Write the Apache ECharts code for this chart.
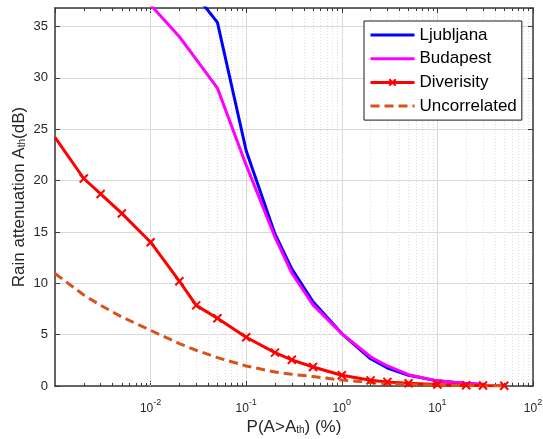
<!DOCTYPE html>
<html>
<head>
<meta charset="utf-8">
<script src="https://cdn.jsdelivr.net/npm/echarts@6/dist/echarts.min.js"></script>
<style>
  html, body { margin: 0; padding: 0; background: #fff; }
  #chart { width: 543px; height: 439px; }
</style>
</head>
<body>
<div id="chart"></div>
<script>
// Exceedance probability (%) and rain attenuation (dB) for each curve
const ljubljanaP = [0.03, 0.05, 0.1, 0.2, 0.3, 0.5, 1, 2, 3, 5, 10, 20, 30];
const ljubljanaA = [38.0, 35.4, 22.9, 14.8, 11.4, 8.2, 5.1, 2.65, 1.75, 1.05, 0.5, 0.25, 0.15];

const budapestP = [0.01, 0.02, 0.03, 0.05, 0.1, 0.2, 0.3, 0.5, 1, 2, 3, 5, 10, 20, 30];
const budapestA = [37.1, 34.0, 31.8, 29.0, 21.5, 14.5, 11.0, 7.9, 5.1, 2.85, 1.95, 1.1, 0.5, 0.25, 0.15];

const diversityP = [0.001, 0.002, 0.003, 0.005, 0.01, 0.02, 0.03, 0.05, 0.1, 0.2, 0.3, 0.5, 1, 2, 3, 5, 10, 20, 30, 50];
const diversityA = [24.2, 20.2, 18.7, 16.8, 14.0, 10.2, 7.85, 6.6, 4.75, 3.25, 2.55, 1.85, 1.05, 0.55, 0.4, 0.26, 0.15, 0.08, 0.05, 0.03];

const uncorrelatedP = [0.001, 0.002, 0.003, 0.005, 0.01, 0.02, 0.03, 0.05, 0.1, 0.2, 0.3, 0.5, 1, 2, 3, 5, 10, 20, 30, 50];
const uncorrelatedA = [10.95, 8.86, 7.86, 6.72, 5.42, 4.13, 3.48, 2.76, 1.95, 1.36, 1.14, 0.92, 0.58, 0.33, 0.24, 0.14, 0.08, 0.04, 0.03, 0.02];

const seriesNames = ['Ljubljana', 'Budapest', 'Diverisity', 'Uncorrelated'];
const yTicks = [0, 5, 10, 15, 20, 25, 30, 35];
const decadeExponents = [-3, -2, -1, 0, 1];   // decades that get 2..9 minor lines
const minorMultipliers = [2, 3, 4, 5, 6, 7, 8, 9];

const FONT = '"Liberation Sans", Arial, Helvetica, sans-serif';
const AXIS_COLOR = '#3a3a3a';
const TEXT_COLOR = '#262626';
const X_MIN = 0.001, X_MAX = 100;
const Y_MIN = 0, Y_MAX = 36.8;
const MINOR_TICK_LEN = 0.3;   // minor tick length in y units (about 3 px)

const pairs = (xs, ys) => xs.map((x, i) => [x, ys[i]]);

// the first Diverisity point sits on the left border and carries no marker
const diversityData = pairs(diversityP, diversityA).map((d, i) =>
  i === 0 ? { value: d, symbol: 'none' } : d);

const crossMarker = 'path://M0,0L10,10M10,0L0,10';

// log-axis minor positions (2..9 inside every decade)
const minorValues = [];
decadeExponents.forEach(e => minorMultipliers.forEach(k =>
  minorValues.push(Number((k * Math.pow(10, e)).toPrecision(3)))));

const minorGridLines = minorValues.map(v => ({
  xAxis: v,
  lineStyle: { color: '#dedede', width: 1, type: [1, 2] }
}));
const minorTickMarks = [];
minorValues.forEach(v => {
  minorTickMarks.push([
    { coord: [v, Y_MIN], lineStyle: { color: AXIS_COLOR, width: 1, type: 'solid' } },
    { coord: [v, Y_MIN + MINOR_TICK_LEN] }
  ]);
  minorTickMarks.push([
    { coord: [v, Y_MAX], lineStyle: { color: AXIS_COLOR, width: 1, type: 'solid' } },
    { coord: [v, Y_MAX - MINOR_TICK_LEN] }
  ]);
});

const chart = echarts.init(document.getElementById('chart'), null, { renderer: 'canvas' });

const bottomX = {
  type: 'log', logBase: 10, min: X_MIN, max: X_MAX, position: 'bottom',
  axisLine: { show: true, onZero: false, lineStyle: { color: AXIS_COLOR, width: 1.5 } },
  axisTick: { show: true, inside: true, length: 5, lineStyle: { color: AXIS_COLOR } },
  minorTick: { show: false },
  splitLine: { show: true, lineStyle: { color: '#dadada', width: 1 } },
  minorSplitLine: { show: false },
  axisLabel: {
    show: true, margin: 16, color: TEXT_COLOR, fontFamily: FONT, fontSize: 12, lineHeight: 14,
    showMinLabel: false,
    formatter: v => {
      const e = Math.round(Math.log10(v));
      if (e <= -3) return '';
      return '10{sup|' + e + '}';
    },
    rich: { sup: { fontSize: 9, lineHeight: 9, fontFamily: FONT, color: TEXT_COLOR, padding: [0, 0, 12, 0] } }
  },
  name: 'P(A>A{sub|th}) (%)', nameLocation: 'middle', nameGap: 31, nameMoveOverlap: false,
  nameTextStyle: {
    fontSize: 17, fontFamily: FONT, color: TEXT_COLOR, lineHeight: 20,
    rich: { sub: { fontSize: 10, lineHeight: 10, fontFamily: FONT, color: TEXT_COLOR, padding: [7, 0, 0, 0] } }
  }
};

const topX = {
  type: 'log', logBase: 10, min: X_MIN, max: X_MAX, position: 'top',
  axisLine: { show: true, onZero: false, lineStyle: { color: AXIS_COLOR, width: 1.5 } },
  axisTick: { show: true, inside: true, length: 5, lineStyle: { color: AXIS_COLOR } },
  splitLine: { show: false },
  axisLabel: { show: false }
};

const leftY = {
  type: 'value', min: Y_MIN, max: Y_MAX, interval: 5, position: 'left',
  axisLine: { show: true, onZero: false, lineStyle: { color: AXIS_COLOR, width: 1.5 } },
  axisTick: { show: true, inside: true, length: 5, lineStyle: { color: AXIS_COLOR } },
  splitLine: { show: true, lineStyle: { color: '#dadada', width: 1 } },
  axisLabel: {
    show: true, margin: 7, color: TEXT_COLOR, fontFamily: FONT, fontSize: 13,
    showMaxLabel: false,
    formatter: v => (yTicks.indexOf(v) >= 0 ? String(v) : '')
  },
  name: 'Rain attenuation A{sub|th}(dB)', nameLocation: 'middle', nameGap: 26, nameMoveOverlap: false,
  nameTextStyle: {
    fontSize: 17, fontFamily: FONT, color: TEXT_COLOR, lineHeight: 20,
    rich: { sub: { fontSize: 10, lineHeight: 10, fontFamily: FONT, color: TEXT_COLOR, padding: [7, 0, 0, 0] } }
  }
};

const rightY = {
  type: 'value', min: Y_MIN, max: Y_MAX, interval: 5, position: 'right',
  axisLine: { show: true, onZero: false, lineStyle: { color: AXIS_COLOR, width: 1.5 } },
  axisTick: { show: true, inside: true, length: 5, lineStyle: { color: AXIS_COLOR } },
  splitLine: { show: false },
  axisLabel: { show: false }
};

// plain curves keep their legend line but hide the legend symbol
const hiddenSymbolStyle = { opacity: 0 };

const option = {
  animation: false,
  backgroundColor: '#ffffff',
  grid: { left: 55, right: 10, top: 8, bottom: 53, containLabel: false, outerBoundsMode: 'none' },
  legend: {
    orient: 'vertical', left: 364, top: 21, z: 10,
    padding: [5, 5, 5, 5], itemGap: 5.7, itemWidth: 44, itemHeight: 8,
    backgroundColor: '#ffffff', borderColor: '#1a1a1a', borderWidth: 1, borderRadius: 0,
    selectedMode: false,
    lineStyle: { width: 3 },
    textStyle: { fontSize: 17, lineHeight: 18, fontFamily: FONT, color: '#000' },
    data: seriesNames
  },
  xAxis: [bottomX, topX],
  yAxis: [leftY, rightY],
  series: [
    {
      // minor log grid and minor ticks on the bottom / top frame, kept under the curves
      name: 'minor-grid', type: 'line', xAxisIndex: 0, yAxisIndex: 0,
      data: [], silent: true, symbol: 'none', z: 1,
      markLine: {
        silent: true, symbol: ['none', 'none'], animation: false, z: 1,
        label: { show: false }, emphasis: { disabled: true },
        data: minorGridLines.concat(minorTickMarks)
      }
    },
    {
      name: seriesNames[0], type: 'line', xAxisIndex: 0, yAxisIndex: 0, z: 3,
      data: pairs(ljubljanaP, ljubljanaA), showSymbol: false, symbol: 'circle',
      color: '#0000ff', itemStyle: hiddenSymbolStyle,
      lineStyle: { color: '#0000ff', width: 3 }, clip: true
    },
    {
      name: seriesNames[1], type: 'line', xAxisIndex: 0, yAxisIndex: 0, z: 3,
      data: pairs(budapestP, budapestA), showSymbol: false, symbol: 'circle',
      color: '#ff00ff', itemStyle: hiddenSymbolStyle,
      lineStyle: { color: '#ff00ff', width: 3 }, clip: true
    },
    {
      name: seriesNames[2], type: 'line', xAxisIndex: 0, yAxisIndex: 0, z: 3,
      data: diversityData, symbol: crossMarker, symbolSize: 8, showSymbol: true,
      color: '#ff0000',
      itemStyle: { color: '#ff0000', borderColor: '#ff0000', borderWidth: 2 },
      lineStyle: { color: '#ff0000', width: 3 }, clip: true
    },
    {
      name: seriesNames[3], type: 'line', xAxisIndex: 0, yAxisIndex: 0, z: 3,
      data: pairs(uncorrelatedP, uncorrelatedA), showSymbol: false, symbol: 'circle',
      color: '#d95319', itemStyle: hiddenSymbolStyle,
      lineStyle: { color: '#d95319', width: 3, type: [9, 5] }, clip: true
    }
  ]
};

chart.setOption(option);
</script>
</body>
</html>
